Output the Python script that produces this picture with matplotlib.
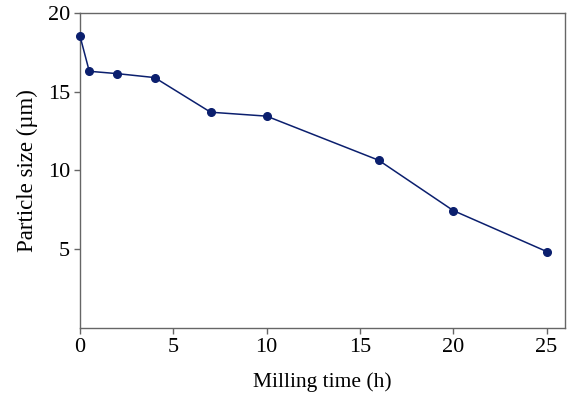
import matplotlib
matplotlib.use("Agg")
import matplotlib.pyplot as plt

time_h = [0, 0.5, 2, 4, 7, 10, 16, 20, 25]
size_um = [18.55, 16.3, 16.15, 15.9, 13.7, 13.45, 10.65, 7.45, 4.85]

plt.rcParams["font.family"] = ["Liberation Serif", "DejaVu Serif"]

fig = plt.figure(figsize=(5.71, 3.95), dpi=100)
ax = fig.add_axes([0.140, 0.170, 0.850, 0.797])

ax.plot(time_h, size_um, "-o", color="#0b1f6e", lw=1.1, ms=5.5, clip_on=False, zorder=3)

ax.set_xlim(0, 26)
ax.set_ylim(0, 20)
ax.set_xticks([0, 5, 10, 15, 20, 25])
ax.set_yticks([5, 10, 15, 20])
ax.tick_params(labelsize=16, length=4, width=1, color="#666666", pad=3)
for s in ax.spines.values():
  s.set_color("#666666")
  s.set_linewidth(1)

ax.set_xlabel("Milling time (h)", fontsize=15.5, labelpad=11)
ax.set_ylabel("Particle size (µm)", fontsize=16.5, labelpad=7)

fig.savefig("out.png", dpi=100)
